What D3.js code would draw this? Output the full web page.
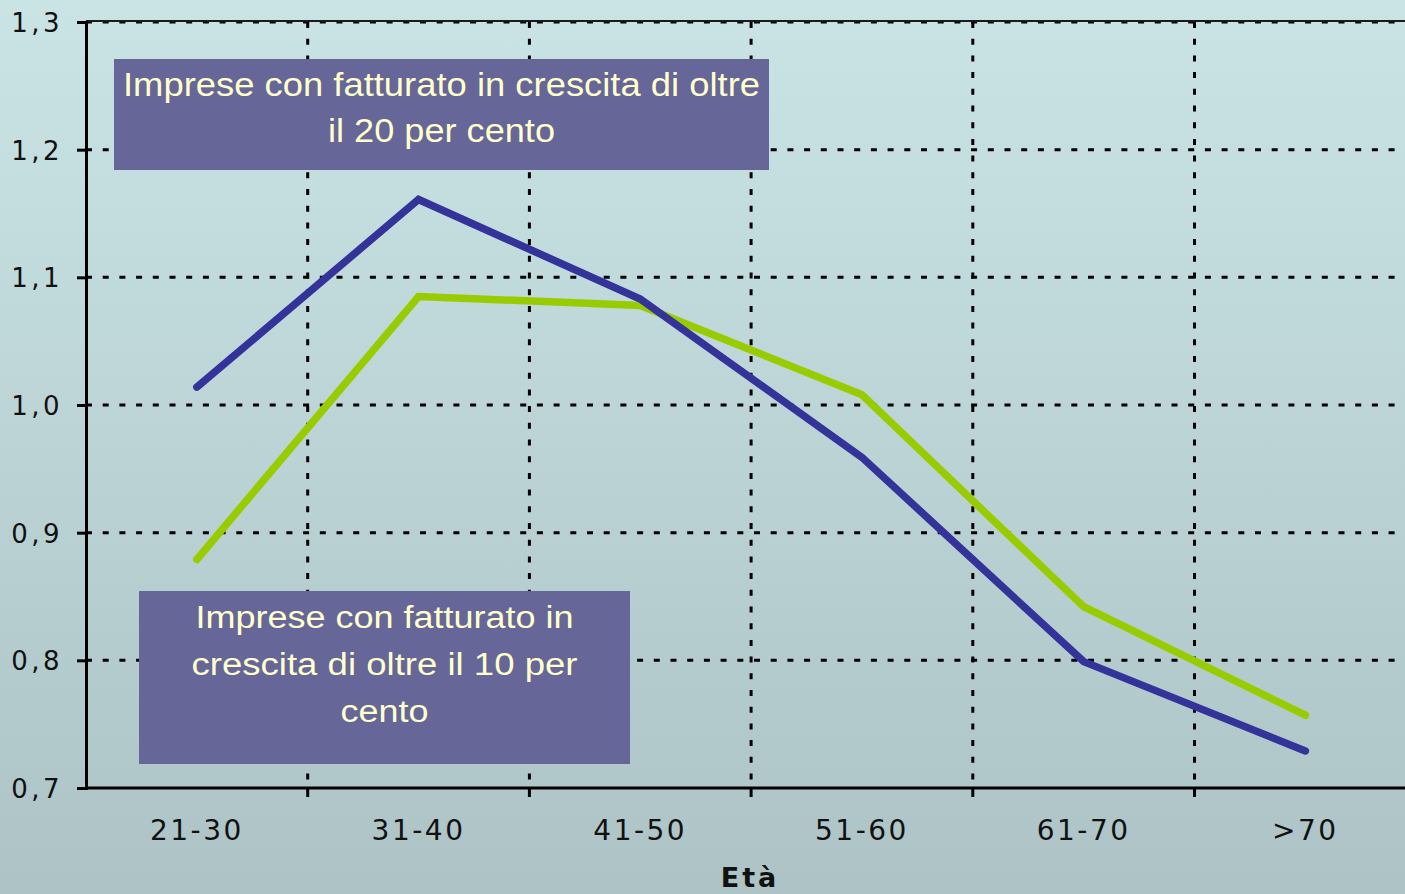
<!DOCTYPE html>
<html><head><meta charset="utf-8">
<script src="https://cdn.jsdelivr.net/npm/d3@7"></script>
<style>html,body{margin:0;padding:0;overflow:hidden;}svg{display:block;}</style>
</head><body>
<svg id="chart" width="1405" height="894"></svg>
<script>
const categories = ["21-30","31-40","41-50","51-60","61-70",">70"];
const serie20 = [1.014, 1.161, 1.083, 0.959, 0.799, 0.729];
const serie10 = [0.879, 1.085, 1.078, 1.008, 0.842, 0.757];
const yTicks = [0.7, 0.8, 0.9, 1.0, 1.1, 1.2, 1.3];
const label20 = ["Imprese con fatturato in crescita di oltre", "il 20 per cento"];
const label10 = ["Imprese con fatturato in", "crescita di oltre il 10 per", "cento"];
const xTitle = "Età";

const svg = d3.select("#chart");
const W = 1405, H = 894;
const defs = svg.append("defs");
const grad = defs.append("linearGradient").attr("id","bg").attr("x1",0).attr("y1",0).attr("x2",0).attr("y2",1);
grad.append("stop").attr("offset","0%").attr("stop-color","#cae4e5");
grad.append("stop").attr("offset","100%").attr("stop-color","#adc3c6");
svg.append("rect").attr("width",W).attr("height",H).attr("fill","url(#bg)");

const left = 86, band = 221.7;
const x = d3.scaleBand().domain(categories).range([left, left + band*categories.length]).padding(0);
const y = d3.scaleLinear().domain([0.7, 1.3]).range([788, 22]);
const xc = d => x(d) + x.bandwidth()/2;

// gridlines
const dash = "6,10.7";
svg.append("g").selectAll("line").data(yTicks.filter(v => v > 0.7)).join("line")
  .attr("x1", left).attr("x2", W).attr("y1", d => y(d)).attr("y2", d => y(d))
  .attr("stroke","#000").attr("stroke-width",3).attr("stroke-dasharray",dash);
svg.append("g").selectAll("line").data(categories.slice(1)).join("line")
  .attr("x1", d => x(d)).attr("x2", d => x(d)).attr("y1", y(1.3)).attr("y2", y(0.7))
  .attr("stroke","#000").attr("stroke-width",3).attr("stroke-dasharray",dash);

// top border
svg.append("line").attr("x1",left).attr("x2",W).attr("y1",y(1.3)-1).attr("y2",y(1.3)-1)
  .attr("stroke","#1a1a1a").attr("stroke-width",2);

// lines
const line = d3.line().x((d,i) => xc(categories[i])).y(d => y(d));
svg.append("path").datum(serie10).attr("d", line).attr("fill","none")
  .attr("stroke","#99cc00").attr("stroke-width",7.5).attr("stroke-linecap","round").attr("stroke-linejoin","miter");
svg.append("path").datum(serie20).attr("d", line).attr("fill","none")
  .attr("stroke","#333399").attr("stroke-width",7.5).attr("stroke-linecap","round").attr("stroke-linejoin","miter");

// axes
const yAxis = d3.axisLeft(y).tickValues(yTicks).tickSize(9).tickSizeOuter(0)
  .tickFormat(d => d3.format(".1f")(d).replace(".", ","));
const gy = svg.append("g").attr("transform",`translate(${left},0)`).call(yAxis);
gy.select(".domain").attr("stroke","#000").attr("stroke-width",3);
gy.selectAll(".tick line").attr("stroke","#000").attr("stroke-width",3).attr("x2",-9).attr("x1",2);
gy.selectAll(".tick text").attr("x",-23).attr("dy","0.36em")
  .style("font-family","DejaVu Sans, Verdana, sans-serif").style("font-size","26px").style("letter-spacing","3.5px").attr("fill","#111");

const xAxis = d3.axisBottom(x).tickSize(0).tickSizeOuter(0);
const gx = svg.append("g").attr("transform",`translate(0,${y(0.7)})`).call(xAxis);
gx.select(".domain").attr("stroke","#000").attr("stroke-width",3).attr("d", `M${left},0H${W+20}`);
gx.selectAll(".tick text").attr("y",52).attr("dy",0)
  .style("font-family","DejaVu Sans, Verdana, sans-serif").style("font-size","28px").style("letter-spacing","2.5px").attr("fill","#111");
// boundary ticks
svg.append("g").selectAll("line").data(categories.slice(1)).join("line")
  .attr("x1", d => x(d)).attr("x2", d => x(d)).attr("y1", y(0.7)).attr("y2", y(0.7)+9)
  .attr("stroke","#000").attr("stroke-width",3);

svg.append("text").attr("x",750).attr("y",887).attr("text-anchor","middle")
  .style("font-family","DejaVu Sans, Verdana, sans-serif").style("font-size","27px").style("font-weight","bold").style("letter-spacing","3px")
  .attr("fill","#111").text(xTitle);

// label boxes
function box(x0, y0, w, h, lines, baselines, widths, fs) {
  const g = svg.append("g");
  g.append("rect").attr("x",x0).attr("y",y0).attr("width",w).attr("height",h).attr("fill","#666699");
  lines.forEach((t,i) => {
    g.append("text").attr("x", x0 + w/2).attr("y", baselines[i]).attr("text-anchor","middle")
      .attr("textLength", widths[i]).attr("lengthAdjust","spacingAndGlyphs")
      .style("font-family","Liberation Sans, Arial, sans-serif").style("font-size", fs+"px")
      .attr("fill","#ffffcc").text(t);
  });
}
box(114, 59, 655, 111, label20, [96, 142], [637, 227], 34);
box(139, 591, 491, 173, label10, [628, 675, 722], [378, 386, 88], 31);
</script>
</body></html>
